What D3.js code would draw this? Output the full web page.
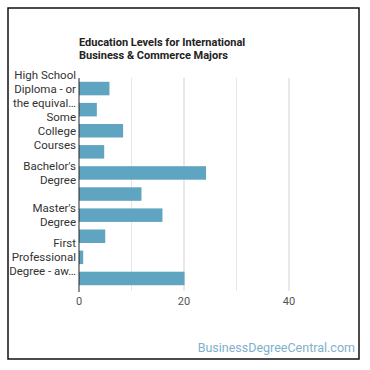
<!DOCTYPE html>
<html>
<head>
<meta charset="utf-8">
<script src="https://cdn.jsdelivr.net/npm/d3@7"></script>
<style>
  body { margin: 0; background: #fff; }
  svg { font-family: Roboto, "Noto Sans", sans-serif; }
</style>
</head>
<body>
<div id="chart"></div>
<script>
// education levels, one bar each (only every other label fits)
var categories = [
  "High School Diploma - or the equivalent (for example: GED)",
  "Post-Secondary Certificate",
  "Some College Courses",
  "Associate's Degree (or other 2-year degree)",
  "Bachelor's Degree",
  "Post-Baccalaureate Certificate",
  "Master's Degree",
  "Post-Master's Certificate",
  "First Professional Degree - awarded for completion of a program",
  "Doctoral Degree"
]
var percents = [5.8, 3.4, 8.4, 4.8, 24.2, 11.9, 15.9, 5.0, 0.8, 20.1]
var xTicks = [0, 20, 40]
var gridValues = [10, 20, 30, 40]
var titleLines = ["Education Levels for International", "Business & Commerce Majors"]

var W = 370, H = 370
var plotLeft = 79, plotRight = 341.5, plotTop = 78, plotBottom = 289

var svg = d3.select("#chart").append("svg").attr("width", W).attr("height", H)

svg.append("rect").attr("x", 8).attr("y", 8).attr("width", 351).attr("height", 351)
  .attr("fill", "#fff").attr("stroke", "#111").attr("stroke-width", 1.5)

var x = d3.scaleLinear().domain([0, 50]).range([plotLeft, plotRight])
var y = d3.scaleBand().domain(d3.range(categories.length)).range([plotTop, plotBottom]).paddingInner(0.36).paddingOuter(0.18)

// title
svg.append("g").selectAll("text").data(titleLines).enter().append("text")
  .attr("x", plotLeft).attr("y", function(d, i){ return 45.5 + i * 13.5 })
  .attr("font-size", 11).attr("font-weight", "bold").attr("fill", "#222")
  .text(function(d){ return d })

// grid
svg.append("g").selectAll("line").data(gridValues).enter().append("line")
  .attr("x1", function(d){ return x(d) }).attr("x2", function(d){ return x(d) })
  .attr("y1", plotTop).attr("y2", plotBottom + 2)
  .attr("stroke", function(d){ return d % 20 == 0 ? "#d2d2d2" : "#e6e6e6" })
  .attr("stroke-width", 1)

// bars
svg.append("g").selectAll("rect").data(percents).enter().append("rect")
  .attr("x", x(0)).attr("y", function(d, i){ return y(i) })
  .attr("width", function(d){ return x(d) - x(0) })
  .attr("height", y.bandwidth())
  .attr("fill", "#5fa4c0")

// y axis line
svg.append("line").attr("x1", x(0)).attr("x2", x(0)).attr("y1", plotTop).attr("y2", plotBottom + 3)
  .attr("stroke", "#222").attr("stroke-width", 1)

// x tick labels
svg.append("g").selectAll("text").data(xTicks).enter().append("text")
  .attr("x", function(d){ return x(d) }).attr("y", 305)
  .attr("text-anchor", "middle").attr("font-size", 11).attr("fill", "#555")
  .text(function(d){ return d })

// category labels, wrapped into max 3 lines, last one cut with an ellipsis
var maxW = 67, lineH = 14
categories.forEach(function(name, i){
  if (i % 2 == 1) return
  var t = svg.append("text").attr("text-anchor", "end").attr("font-size", 11.5).attr("fill", "#333")
  var words = name.split(" "), lines = [], cur = ""
  var probe = svg.append("text").attr("font-size", 11.5)
  function w(s){ probe.text(s); return probe.node().getComputedTextLength() }
  for (var k = 0; k < words.length; k++){
    var test = cur ? cur + " " + words[k] : words[k]
    if (w(test) > maxW && cur){ lines.push(cur); cur = words[k] } else cur = test
  }
  if (cur) lines.push(cur)
  if (lines.length > 3){
    var last = lines.slice(2).join(" ")
    while (w(last + "…") > maxW && last.length) last = last.slice(0, -1)
    lines = [lines[0], lines[1], last.trim() + "…"]
  }
  probe.remove()
  var cy = y(i) + y.bandwidth() / 2
  lines.forEach(function(l, j){
    t.append("tspan").attr("x", plotLeft - 3)
      .attr("y", cy + (j - (lines.length - 1) / 2) * lineH + 4)
      .text(l)
  })
})

// watermark
svg.append("text").attr("x", 355).attr("y", 352).attr("text-anchor", "end")
  .attr("font-size", 12.5).attr("fill", "#7fb0cc")
  .text("BusinessDegreeCentral.com")
</script>
</body>
</html>
